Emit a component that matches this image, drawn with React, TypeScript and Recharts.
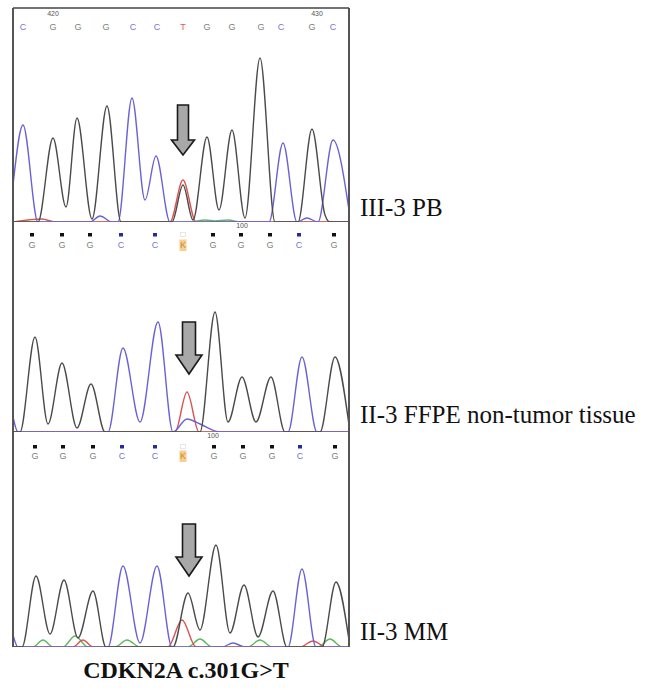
import React from 'react';
import { LineChart, Line, XAxis, YAxis, ReferenceLine, ReferenceDot } from 'recharts';

type Pt = [number, number];

// ---------- Panel 1: III-3 PB ----------
const pbBasePositions = [10, 40, 65, 93, 120, 144, 170, 194, 219, 248, 268, 299, 320];
const pbBases = ['C', 'G', 'G', 'G', 'C', 'C', 'T', 'G', 'G', 'G', 'C', 'G', 'C'];
const pbNumberPositions = [40, 304];
const pbNumberLabels = ['420', '430'];
const pbG: Pt[] = [[0, 0], [25, 0], [40, 84], [53, 15], [64, 104], [79, 3], [94, 116], [108, 0], [159, 0], [170, 37], [180, 2], [194, 85], [206, 12], [219, 92], [232, 4], [247, 164], [262, 0], [285, 0], [299, 93], [312, 7], [317, 0], [336, 0]];
const pbC: Pt[] = [[0, 37], [10, 97], [25, 0], [77, 0], [87, 6], [99, 0], [105, 0], [119, 124], [132, 22], [143, 66], [157, 0], [256, 0], [270, 79], [284, 0], [294, 4], [305, 0], [320, 82], [336, 12]];
const pbT: Pt[] = [[0, 0], [29, 3], [42, 0], [157, 0], [170, 42], [183, 0], [336, 0]];
const pbA: Pt[] = [[0, 0], [177, 0], [192, 2], [202, 1], [215, 2], [227, 0], [336, 0]];
const pbArrow: Pt = [170, 67];

// ---------- Panel 2: II-3 FFPE non-tumor tissue ----------
const ffBasePositions = [19, 49, 77, 108, 142, 170, 200, 228, 257, 286, 321];
const ffBases = ['G', 'G', 'G', 'C', 'C', 'K', 'G', 'G', 'G', 'C', 'G'];
const ffNumberPositions = [229];
const ffNumberLabels = ['100'];
const ffG: Pt[] = [[0, 0], [7, 0], [22, 95], [35, 8], [49, 69], [64, 4], [78, 48], [92, 0], [187, 0], [202, 120], [215, 10], [229, 55], [243, 10], [258, 55], [272, 0], [307, 0], [322, 75], [336, 7]];
const ffC: Pt[] = [[0, 15], [5, 0], [95, 0], [110, 84], [127, 10], [145, 110], [160, 0], [174, 13], [187, 8], [207, 0], [275, 0], [289, 75], [304, 0], [336, 0]];
const ffT: Pt[] = [[0, 0], [162, 0], [174, 40], [186, 0], [336, 0]];
const ffA: Pt[] = [[0, 0], [336, 0]];
const ffArrow: Pt = [176, 58];

// ---------- Panel 3: II-3 MM ----------
const mmBasePositions = [22, 50, 80, 109, 142, 170, 201, 230, 259, 287, 322];
const mmBases = ['G', 'G', 'G', 'C', 'C', 'K', 'G', 'G', 'G', 'C', 'G'];
const mmNumberPositions = [200];
const mmNumberLabels = ['100'];
const mmG: Pt[] = [[0, 0], [9, 0], [23, 71], [37, 13], [51, 67], [65, 9], [80, 56], [93, 0], [160, 0], [175, 54], [187, 17], [203, 102], [217, 14], [231, 62], [245, 10], [260, 56], [274, 0], [309, 0], [323, 65], [336, 7]];
const mmC: Pt[] = [[0, 12], [5, 0], [95, 0], [110, 81], [127, 4], [144, 81], [159, 0], [209, 0], [220, 4], [232, 0], [275, 0], [289, 78], [303, 0], [336, 0]];
const mmT: Pt[] = [[0, 0], [60, 0], [70, 7], [80, 0], [155, 0], [169, 27], [183, 0], [287, 0], [300, 6], [313, 0], [336, 0]];
const mmA: Pt[] = [[0, 0], [20, 0], [30, 7], [40, 0], [50, 0], [62, 11], [75, 0], [102, 0], [114, 7], [127, 0], [175, 0], [187, 8], [199, 0], [235, 0], [247, 7], [259, 0], [305, 0], [317, 8], [329, 0], [336, 0]];
const mmArrow: Pt = [176, 71];

const sampleLabels = ['III-3 PB', 'II-3 FFPE non-tumor tissue', 'II-3 MM'];
const title = 'CDKN2A c.301G>T';

const X_MAX = 336;

const traceColor: Record<string, string> = { G: '#4a4a4a', C: '#6a62d4', T: '#d9534f', A: '#5cb85c' };
const letterColor: Record<string, string> = { G: '#808080', C: '#7474d8', T: '#e05a5a', A: '#4caf50', K: '#c98a2a' };
const squareColor: Record<string, string> = { G: '#111111', C: '#2a2aa0' };

const toObjs = (pts: Pt[]) => pts.map(([x, v]) => ({ x, v }));

type PanelCfg = {
  top: number;
  height: number;
  marginTop: number;
  marginBottom: number;
  yMax: number;
  positions: number[];
  bases: string[];
  numPositions: number[];
  numLabels: string[];
  traces: { G: Pt[]; C: Pt[]; T: Pt[]; A: Pt[] };
  arrow: Pt;
  arrowSize: { H: number; sw: number; hw: number; hh: number };
  quality: boolean;
  letterOffset: number;
  squareOffset: number;
  numberOffset: number;
  topBorder: boolean;
};

const Panel = ({ cfg }: { cfg: PanelCfg }) => {
  const makeBaseShape = (b: string) => (props: any) => {
    const { cx, cy } = props;
    const x = cx;
    const ly = cy + cfg.letterOffset;
    const sy = cy + cfg.squareOffset;
    return (
      <g>
        {cfg.quality && b !== 'K' && (
          <rect x={x - 2} y={sy - 2} width={4} height={3.5} fill={squareColor[b] || '#111111'} />
        )}
        {cfg.quality && b === 'K' && (
          <rect x={x - 2.5} y={sy - 2.5} width={5} height={4} fill="none" stroke="#e2e2e2" strokeWidth={0.8} />
        )}
        {b === 'K' && <rect x={x - 3.5} y={ly - 8.5} width={7} height={11.5} fill="#f8cf92" />}
        <text x={x} y={ly} textAnchor="middle" fontSize={9} fontFamily="'Liberation Sans', Arial, sans-serif" style={{ fill: letterColor[b] }}>
          {b}
        </text>
      </g>
    );
  };

  const makeNumShape = (label: string) => (props: any) => {
    const { cx, cy } = props;
    return (
      <text x={cx} y={cy + cfg.numberOffset} textAnchor="middle" fontSize={7} fontFamily="'Liberation Sans', Arial, sans-serif" style={{ fill: '#555555' }}>
        {label}
      </text>
    );
  };

  const ArrowShape = (props: any) => {
    const { cx, cy } = props;
    const { H, sw, hw, hh } = cfg.arrowSize;
    const pts = [
      [cx, cy],
      [cx - hw, cy - hh],
      [cx - sw, cy - hh],
      [cx - sw, cy - H],
      [cx + sw, cy - H],
      [cx + sw, cy - hh],
      [cx + hw, cy - hh],
    ]
      .map((p) => p.join(','))
      .join(' ');
    return <polygon points={pts} fill="#a8a8a8" stroke="#1a1a1a" strokeWidth={1.6} strokeLinejoin="miter" />;
  };

  const order: Array<'A' | 'T' | 'C' | 'G'> = ['A', 'T', 'C', 'G'];

  return (
    <div style={{ position: 'absolute', left: 0, top: cfg.top }}>
      <LineChart
        width={646}
        height={cfg.height}
        margin={{ top: cfg.marginTop, bottom: cfg.marginBottom, left: 13, right: 297 }}
      >
        <XAxis
          xAxisId="main"
          dataKey="x"
          type="number"
          domain={[0, X_MAX]}
          allowDataOverflow
          height={0}
          tick={false}
          tickLine={false}
          axisLine={{ stroke: '#1e1e1e', strokeWidth: 2.4 }}
        />
        <YAxis hide type="number" domain={[0, cfg.yMax]} allowDataOverflow />
        {order.map((k) => (
          <Line
            key={k}
            xAxisId="main"
            data={toObjs(cfg.traces[k])}
            dataKey="v"
            type="monotone"
            stroke={traceColor[k]}
            strokeWidth={1.4}
            dot={false}
            activeDot={false}
            isAnimationActive={false}
          />
        ))}
        <ReferenceLine xAxisId="main" x={0} stroke="#555" strokeWidth={2} />
        <ReferenceLine xAxisId="main" x={X_MAX} stroke="#555" strokeWidth={2} />
        {cfg.topBorder && <ReferenceLine xAxisId="main" y={cfg.yMax} stroke="#444" strokeWidth={1.6} />}
        {cfg.positions.map((p, i) => (
          <ReferenceDot key={'b' + i} xAxisId="main" x={p} y={cfg.yMax} r={1} shape={makeBaseShape(cfg.bases[i])} />
        ))}
        {cfg.numPositions.map((p, i) => (
          <ReferenceDot key={'n' + i} xAxisId="main" x={p} y={cfg.yMax} r={1} shape={makeNumShape(cfg.numLabels[i])} />
        ))}
        <ReferenceDot xAxisId="main" x={cfg.arrow[0]} y={cfg.arrow[1]} r={1} shape={ArrowShape} />
      </LineChart>
    </div>
  );
};

const panels: PanelCfg[] = [
  {
    top: 0, height: 226, marginTop: 8, marginBottom: 4, yMax: 214,
    positions: pbBasePositions, bases: pbBases, numPositions: pbNumberPositions, numLabels: pbNumberLabels,
    traces: { G: pbG, C: pbC, T: pbT, A: pbA }, arrow: pbArrow,
    arrowSize: { H: 50, sw: 5.5, hw: 11.5, hh: 15 },
    quality: false, letterOffset: 22, squareOffset: 0, numberOffset: 8, topBorder: true,
  },
  {
    top: 218, height: 218, marginTop: 4, marginBottom: 4, yMax: 210,
    positions: ffBasePositions, bases: ffBases, numPositions: ffNumberPositions, numLabels: ffNumberLabels,
    traces: { G: ffG, C: ffC, T: ffT, A: ffA }, arrow: ffArrow,
    arrowSize: { H: 52, sw: 6.5, hw: 13, hh: 19 },
    quality: true, letterOffset: 26, squareOffset: 13, numberOffset: 6, topBorder: false,
  },
  {
    top: 428, height: 223, marginTop: 4, marginBottom: 4, yMax: 215,
    positions: mmBasePositions, bases: mmBases, numPositions: mmNumberPositions, numLabels: mmNumberLabels,
    traces: { G: mmG, C: mmC, T: mmT, A: mmA }, arrow: mmArrow,
    arrowSize: { H: 52, sw: 6.5, hw: 13, hh: 19 },
    quality: true, letterOffset: 27, squareOffset: 15, numberOffset: 6, topBorder: false,
  },
];

const labelBaselines = [216, 423, 640];

export default function App() {
  return (
    <div style={{ position: 'absolute', left: 0, top: 0, width: 646, height: 690, background: '#fff', overflow: 'hidden' }}>
      {panels.map((p, i) => (
        <Panel key={i} cfg={p} />
      ))}
      <svg width={646} height={690} style={{ position: 'absolute', left: 0, top: 0, pointerEvents: 'none' }}>
        {sampleLabels.map((s, i) => (
          <text key={s} x={360} y={labelBaselines[i]} fontSize={25} fontFamily="'Liberation Serif', 'Times New Roman', serif" fill="#111">
            {s}
          </text>
        ))}
        <text x={186} y={678} textAnchor="middle" fontSize={24} fontWeight="bold" fontFamily="'Liberation Serif', 'Times New Roman', serif" fill="#111">
          {title}
        </text>
      </svg>
    </div>
  );
}
